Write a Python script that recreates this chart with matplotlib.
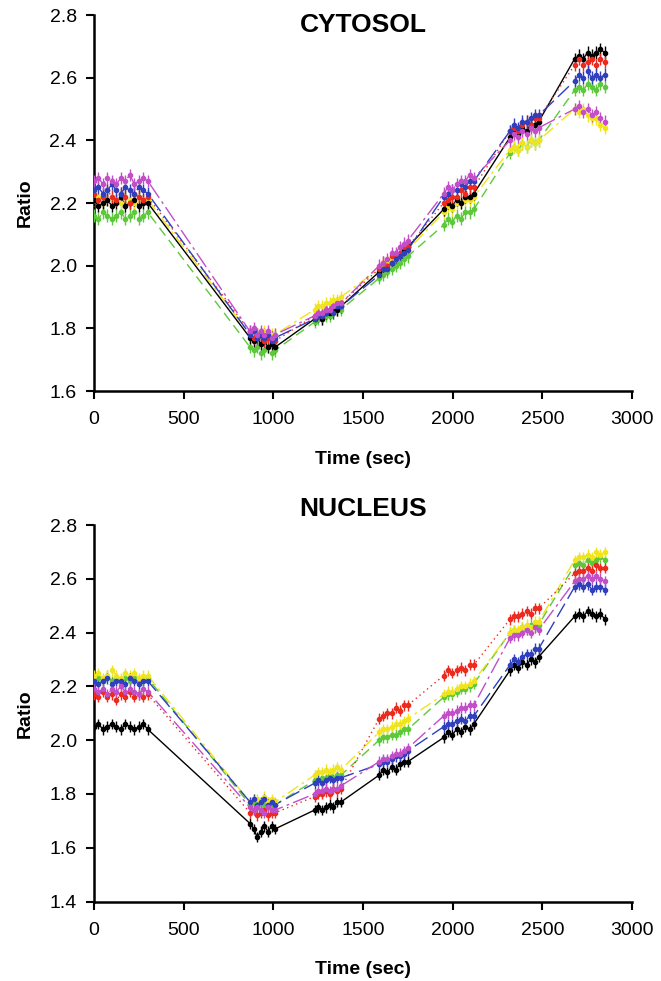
import matplotlib
matplotlib.use("Agg")
import matplotlib.pyplot as plt

plt.rcParams['font.family'] = ['Liberation Sans', 'DejaVu Sans']

# ---------------- data ----------------
time_s = [0, 25, 50, 75, 100, 125, 150, 175, 200, 225, 250, 275, 300,
          870, 890, 910, 930, 950, 970, 990, 1010,
          1230, 1251, 1272, 1293, 1314, 1335, 1356, 1377,
          1590, 1613, 1636, 1659, 1682, 1705, 1728, 1750,
          1950, 1974, 1998, 2022, 2046, 2070, 2094, 2118,
          2320, 2343, 2366, 2389, 2412, 2435, 2458, 2480,
          2680, 2704, 2728, 2752, 2776, 2800, 2824, 2848]

series_names = ["black", "red", "blue", "green", "yellow", "magenta"]

cyto_black = [2.21, 2.19, 2.20, 2.21, 2.19, 2.20, 2.22, 2.19, 2.20, 2.21, 2.19, 2.20, 2.20,
              1.77, 1.76, 1.77, 1.75, 1.76, 1.74, 1.75, 1.74,
              1.83, 1.84, 1.83, 1.85, 1.85, 1.86, 1.86, 1.87,
              1.98, 1.99, 2.00, 2.01, 2.03, 2.03, 2.05, 2.06,
              2.18, 2.20, 2.19, 2.21, 2.20, 2.22, 2.22, 2.23,
              2.41, 2.43, 2.42, 2.44, 2.43, 2.45, 2.45, 2.46,
              2.66, 2.67, 2.66, 2.68, 2.67, 2.68, 2.69, 2.68]
cyto_red = [2.23, 2.21, 2.22, 2.24, 2.22, 2.21, 2.23, 2.22, 2.20, 2.23, 2.22, 2.21, 2.22,
            1.79, 1.77, 1.78, 1.78, 1.76, 1.77, 1.77, 1.76,
            1.84, 1.85, 1.84, 1.86, 1.86, 1.87, 1.87, 1.88,
            1.99, 2.01, 2.00, 2.03, 2.03, 2.04, 2.06, 2.06,
            2.20, 2.21, 2.22, 2.22, 2.24, 2.23, 2.25, 2.25,
            2.43, 2.44, 2.43, 2.45, 2.46, 2.45, 2.47, 2.47,
            2.64, 2.66, 2.64, 2.65, 2.66, 2.64, 2.66, 2.65]
cyto_blue = [2.24, 2.25, 2.23, 2.24, 2.26, 2.24, 2.23, 2.25, 2.24, 2.23, 2.25, 2.24, 2.23,
             1.78, 1.79, 1.77, 1.78, 1.77, 1.78, 1.76, 1.77,
             1.83, 1.84, 1.84, 1.85, 1.86, 1.85, 1.87, 1.87,
             1.97, 1.99, 1.99, 2.01, 2.02, 2.03, 2.04, 2.05,
             2.22, 2.23, 2.24, 2.24, 2.26, 2.25, 2.27, 2.27,
             2.43, 2.45, 2.44, 2.46, 2.46, 2.47, 2.48, 2.48,
             2.59, 2.61, 2.60, 2.62, 2.60, 2.61, 2.60, 2.61]
cyto_green = [2.16, 2.15, 2.17, 2.16, 2.15, 2.16, 2.17, 2.15, 2.16, 2.17, 2.15, 2.16, 2.17,
              1.74, 1.73, 1.74, 1.72, 1.73, 1.74, 1.72, 1.73,
              1.82, 1.83, 1.83, 1.84, 1.84, 1.85, 1.86, 1.86,
              1.96, 1.97, 1.98, 1.99, 2.00, 2.01, 2.02, 2.03,
              2.13, 2.15, 2.14, 2.16, 2.15, 2.17, 2.17, 2.18,
              2.36, 2.38, 2.37, 2.39, 2.38, 2.40, 2.39, 2.40,
              2.56, 2.57, 2.56, 2.58, 2.57, 2.56, 2.58, 2.57]
cyto_yellow = [2.21, 2.22, 2.20, 2.21, 2.22, 2.21, 2.20, 2.22, 2.21, 2.20, 2.22, 2.21, 2.21,
               1.78, 1.79, 1.77, 1.78, 1.79, 1.77, 1.78, 1.78,
               1.86, 1.87, 1.87, 1.88, 1.88, 1.89, 1.89, 1.90,
               1.99, 2.00, 2.01, 2.02, 2.02, 2.04, 2.04, 2.05,
               2.17, 2.19, 2.18, 2.20, 2.20, 2.21, 2.21, 2.22,
               2.37, 2.38, 2.37, 2.39, 2.38, 2.40, 2.39, 2.40,
               2.50, 2.49, 2.50, 2.48, 2.47, 2.47, 2.45, 2.44]
cyto_magenta = [2.27, 2.28, 2.26, 2.28, 2.27, 2.26, 2.28, 2.27, 2.29, 2.26, 2.27, 2.28, 2.27,
                1.79, 1.80, 1.78, 1.79, 1.78, 1.79, 1.77, 1.78,
                1.84, 1.85, 1.85, 1.86, 1.86, 1.87, 1.88, 1.88,
                2.00, 2.01, 2.02, 2.04, 2.04, 2.06, 2.07, 2.08,
                2.23, 2.25, 2.24, 2.26, 2.27, 2.27, 2.29, 2.28,
                2.40, 2.42, 2.41, 2.43, 2.42, 2.44, 2.43, 2.44,
                2.50, 2.51, 2.49, 2.50, 2.48, 2.49, 2.47, 2.46]

nuc_black = [2.05, 2.06, 2.04, 2.05, 2.06, 2.05, 2.04, 2.06, 2.05, 2.04, 2.05, 2.06, 2.04,
             1.69, 1.67, 1.64, 1.66, 1.68, 1.66, 1.68, 1.67,
             1.74, 1.75, 1.74, 1.75, 1.76, 1.75, 1.77, 1.77,
             1.87, 1.89, 1.88, 1.90, 1.89, 1.91, 1.92, 1.92,
             2.01, 2.03, 2.02, 2.04, 2.03, 2.05, 2.04, 2.06,
             2.26, 2.28, 2.27, 2.29, 2.28, 2.30, 2.29, 2.31,
             2.46, 2.47, 2.46, 2.48, 2.47, 2.46, 2.47, 2.45]
nuc_red = [2.17, 2.16, 2.18, 2.16, 2.17, 2.15, 2.17, 2.16, 2.18, 2.16, 2.17, 2.16, 2.17,
           1.73, 1.74, 1.72, 1.73, 1.74, 1.72, 1.73, 1.73,
           1.79, 1.80, 1.80, 1.81, 1.80, 1.82, 1.81, 1.82,
           2.08, 2.09, 2.10, 2.10, 2.12, 2.11, 2.13, 2.13,
           2.24, 2.26, 2.25, 2.26, 2.27, 2.26, 2.28, 2.28,
           2.45, 2.46, 2.46, 2.47, 2.48, 2.47, 2.49, 2.49,
           2.62, 2.63, 2.63, 2.64, 2.63, 2.65, 2.64, 2.64]
nuc_blue = [2.22, 2.21, 2.22, 2.23, 2.21, 2.22, 2.22, 2.21, 2.23, 2.22, 2.21, 2.22, 2.22,
            1.77, 1.78, 1.76, 1.77, 1.78, 1.76, 1.77, 1.76,
            1.84, 1.85, 1.84, 1.85, 1.86, 1.85, 1.86, 1.86,
            1.91, 1.92, 1.92, 1.93, 1.94, 1.94, 1.95, 1.96,
            2.05, 2.06, 2.06, 2.07, 2.08, 2.07, 2.09, 2.09,
            2.28, 2.30, 2.29, 2.31, 2.32, 2.32, 2.34, 2.34,
            2.57, 2.58, 2.57, 2.58, 2.56, 2.57, 2.57, 2.56]
nuc_green = [2.22, 2.23, 2.22, 2.24, 2.22, 2.23, 2.21, 2.23, 2.22, 2.23, 2.22, 2.22, 2.23,
             1.76, 1.77, 1.76, 1.77, 1.76, 1.77, 1.76, 1.76,
             1.85, 1.85, 1.86, 1.86, 1.87, 1.86, 1.87, 1.87,
             2.00, 2.01, 2.01, 2.02, 2.02, 2.03, 2.04, 2.04,
             2.16, 2.17, 2.17, 2.18, 2.19, 2.19, 2.20, 2.21,
             2.40, 2.41, 2.40, 2.42, 2.41, 2.43, 2.42, 2.43,
             2.65, 2.66, 2.65, 2.67, 2.66, 2.67, 2.68, 2.67]
nuc_yellow = [2.24, 2.25, 2.23, 2.24, 2.26, 2.24, 2.23, 2.25, 2.24, 2.25, 2.23, 2.24, 2.24,
              1.77, 1.78, 1.78, 1.77, 1.79, 1.77, 1.78, 1.77,
              1.87, 1.88, 1.88, 1.89, 1.88, 1.89, 1.90, 1.89,
              2.03, 2.04, 2.04, 2.05, 2.06, 2.06, 2.07, 2.08,
              2.17, 2.18, 2.18, 2.19, 2.20, 2.20, 2.21, 2.22,
              2.40, 2.41, 2.41, 2.42, 2.43, 2.42, 2.44, 2.44,
              2.67, 2.68, 2.68, 2.69, 2.68, 2.70, 2.69, 2.70]
nuc_magenta = [2.19, 2.18, 2.19, 2.17, 2.19, 2.18, 2.20, 2.18, 2.19, 2.18, 2.17, 2.19, 2.18,
               1.75, 1.74, 1.75, 1.74, 1.73, 1.75, 1.74, 1.74,
               1.80, 1.81, 1.81, 1.82, 1.81, 1.82, 1.82, 1.83,
               1.92, 1.93, 1.93, 1.94, 1.95, 1.95, 1.96, 1.97,
               2.09, 2.10, 2.10, 2.11, 2.12, 2.12, 2.13, 2.13,
               2.38, 2.39, 2.39, 2.40, 2.41, 2.40, 2.42, 2.41,
               2.59, 2.60, 2.60, 2.61, 2.60, 2.61, 2.60, 2.59]

err_half = [0.02, 0.02]  # half-height of error bars (cytosol, nucleus)

panel_titles = ["CYTOSOL", "NUCLEUS"]
panel_ylim = [(1.6, 2.8), (1.4, 2.8)]
panel_yticks = [[1.6, 1.8, 2.0, 2.2, 2.4, 2.6, 2.8],
                [1.4, 1.6, 1.8, 2.0, 2.2, 2.4, 2.6, 2.8]]
x_ticks = [0, 500, 1000, 1500, 2000, 2500, 3000]

panel_data = [
    {"black": cyto_black, "red": cyto_red, "blue": cyto_blue,
     "green": cyto_green, "yellow": cyto_yellow, "magenta": cyto_magenta},
    {"black": nuc_black, "red": nuc_red, "blue": nuc_blue,
     "green": nuc_green, "yellow": nuc_yellow, "magenta": nuc_magenta},
]

# ---------------- styles ----------------
colors = {"black": "#000000", "red": "#ec2a1e", "blue": "#2f3fbe",
          "green": "#5ec83c", "yellow": "#f0e41e", "magenta": "#c24ec8"}
linestyles = {"black": "-", "red": (0, (1, 2.5)), "blue": (0, (11, 4)),
              "green": (0, (7, 4)), "yellow": (0, (9, 3, 2, 3)),
              "magenta": (0, (12, 3, 2, 3))}
draw_order = ["green", "yellow", "black", "red", "blue", "magenta"]

W, H = 661, 981
fig = plt.figure(figsize=(W / 100, H / 100), dpi=100)
x0, x1 = 94, 632
axes_px = [(15, 391), (525, 901.5)]       # (top, bottom) in pixels
title_px = [25, 509]
xlabel_px = [460, 969]
ylabel_x_px = 25

for i in range(2):
    top, bot = axes_px[i]
    ax = fig.add_axes([x0 / W, 1 - bot / H, (x1 - x0) / W, (bot - top) / H])
    data = panel_data[i]
    for name in draw_order:
        vals = data[name]
        ax.plot(time_s, vals, color=colors[name], linestyle=linestyles[name],
                linewidth=1.0, zorder=2)
        ax.errorbar(time_s, vals, yerr=err_half[i], fmt='o', ms=3.0,
                    mfc=colors[name], mec=colors[name], ecolor=colors[name],
                    elinewidth=1.0, capsize=0, linestyle='none', zorder=3)
    ax.set_xlim(0, 3000)
    ax.set_ylim(*panel_ylim[i])
    ax.set_xticks(x_ticks)
    ax.set_yticks(panel_yticks[i])
    ax.set_yticklabels([f"{v:.1f}" for v in panel_yticks[i]])
    ax.spines['top'].set_visible(False)
    ax.spines['right'].set_visible(False)
    for s in ['left', 'bottom']:
        ax.spines[s].set_linewidth(1.8)
    ax.tick_params(axis='both', direction='out', length=6, width=1.5,
                   labelsize=14)
    ax.tick_params(axis='x', pad=8.5)
    ax.tick_params(axis='y', pad=6.5)
    ax.set_xlabel("Time (sec)", fontsize=14, fontweight='bold')
    ax.xaxis.set_label_coords((x0 + x1) / 2 / W, 1 - xlabel_px[i] / H,
                              transform=fig.transFigure)
    ax.xaxis.label.set_verticalalignment('center')
    ax.set_ylabel("Ratio", fontsize=14, fontweight='bold')
    ax.yaxis.set_label_coords(ylabel_x_px / W, 1 - (top + bot) / 2 / H,
                              transform=fig.transFigure)
    ax.yaxis.label.set_verticalalignment('center')
    fig.text((x0 + x1) / 2 / W, 1 - title_px[i] / H, panel_titles[i],
             ha='center', va='center', fontsize=19, fontweight='bold')

fig.savefig("out.png", dpi=100)
